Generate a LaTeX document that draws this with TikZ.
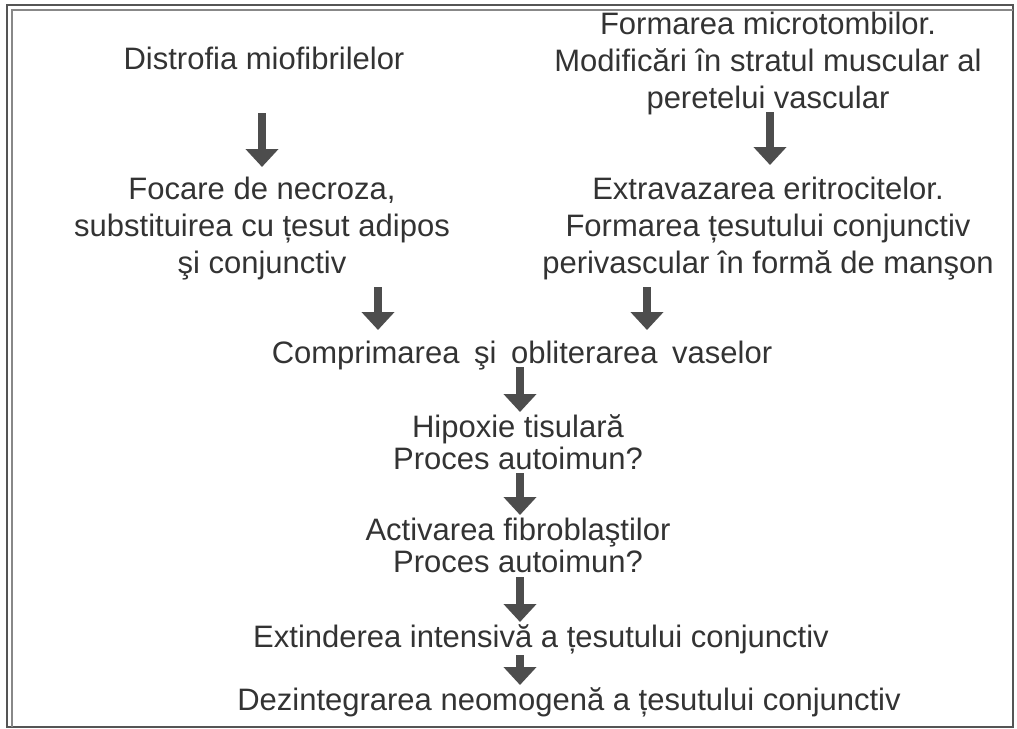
\documentclass[tikz,border=0pt]{standalone}
\usepackage{fontspec}
\setmainfont{Liberation Sans}
\newfontfamily\widespfont[WordSpace=1.7]{Liberation Sans}
\usetikzlibrary{arrows.meta}
\definecolor{ink}{HTML}{333333}
\definecolor{arrowc}{HTML}{4D4D4D}
\definecolor{framec}{HTML}{555555}
\tikzset{
  txt/.style={anchor=north, align=center, inner sep=0pt, text=ink,
    font=\fontsize{31}{37}\selectfont},
  txtlow/.style={txt, font=\fontsize{31}{32}\selectfont},
  flow/.style={draw=arrowc, line width=8pt,
    -{Triangle[width=32pt,length=18pt]}},
  frame/.style={draw=framec, line width=1.6pt},
}
\begin{document}
\begin{tikzpicture}[x=1pt,y=-1pt]
\useasboundingbox (0,0) rectangle (1017,728);
% frame
\draw[frame] (7,5) rectangle (1013,727);
\draw[frame, line width=1.2pt, draw=framec!70] (12,727) -- (12,10) -- (1013,10);

% text nodes
\node[txt] (distr) at (264,47) {Distrofia miofibrilelor};
\node[txt] (form) at (768,12) {Formarea microtombilor.\\Modificări în stratul muscular al\\peretelui vascular};
\node[txt] (focare) at (262,177) {Focare de necroza,\\substituirea cu țesut adipos\\şi conjunctiv};
\node[txt] (extrav) at (768,177) {Extravazarea eritrocitelor.\\Formarea țesutului conjunctiv\\perivascular în formă de manşon};
\node[txt, font=\widespfont\fontsize{31}{37}\selectfont] (comp) at (522,341) {Comprimarea şi obliterarea vaselor};
\node[txtlow] (hip) at (518,414) {Hipoxie tisulară\\Proces autoimun?};
\node[txtlow] (act) at (518,518) {Activarea fibroblaştilor\\Proces autoimun?};
\node[txt] (ext) at (541,624) {Extinderea intensivă a țesutului conjunctiv};
\node[txt] (dez) at (569,687) {Dezintegrarea neomogenă a țesutului conjunctiv};

% arrow end points
\coordinate (a1s) at (262,113); \coordinate (a1e) at (262,167);
\coordinate (a2s) at (770,112); \coordinate (a2e) at (770,165);
\coordinate (a3s) at (378,287); \coordinate (a3e) at (378,330);
\coordinate (a4s) at (647,287); \coordinate (a4e) at (647,330);
\coordinate (a5s) at (520,367); \coordinate (a5e) at (520,412);
\coordinate (a6s) at (520,473); \coordinate (a6e) at (520,515);
\coordinate (a7s) at (520,577); \coordinate (a7e) at (520,622);
\coordinate (a8s) at (520,655); \coordinate (a8e) at (520,685);

\draw[flow] (a1s) -- (a1e);
\draw[flow] (a2s) -- (a2e);
\draw[flow] (a3s) -- (a3e);
\draw[flow] (a4s) -- (a4e);
\draw[flow] (a5s) -- (a5e);
\draw[flow] (a6s) -- (a6e);
\draw[flow] (a7s) -- (a7e);
\draw[flow] (a8s) -- (a8e);
\end{tikzpicture}
\end{document}
